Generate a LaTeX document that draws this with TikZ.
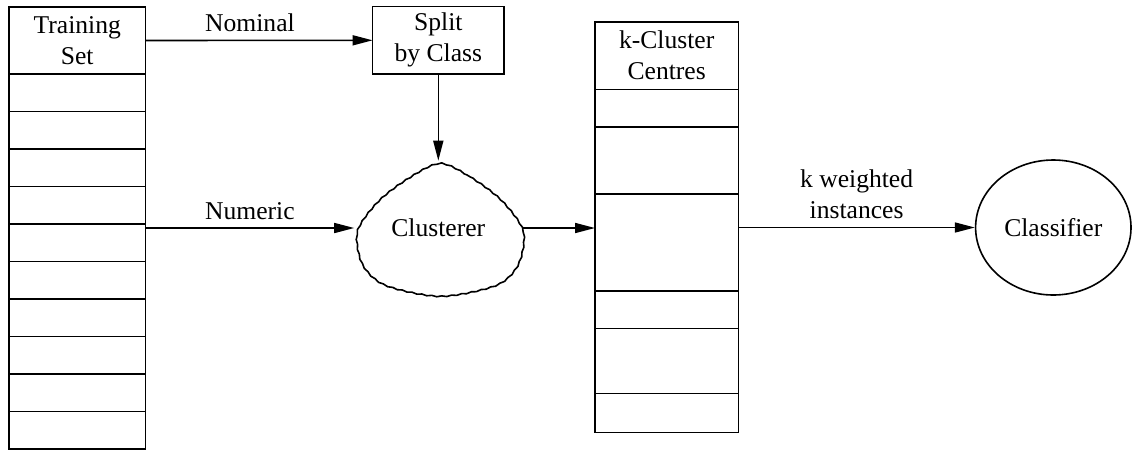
\documentclass[tikz,border=0pt]{standalone}
\usepackage{fontspec}
\setmainfont{Liberation Serif}
\usepackage{tikz}
\usetikzlibrary{positioning,arrows.meta,decorations.pathmorphing,shapes.geometric}

\begin{document}
\begin{tikzpicture}[x=0.5pt,y=-0.5pt,line width=0.8pt,
    every node/.style={align=center,font=\fontsize{12.8}{15.5}\selectfont},
    box/.style={draw,rectangle,outer sep=0pt,inner sep=2pt},
    rowbox/.style={draw,rectangle,outer sep=0pt,minimum width=#1},
    arr/.style={-{Triangle[length=10pt,width=5pt]}},
    lbl/.style={above=0.5pt}]
  \useasboundingbox (0,0) rectangle (1133,451);
  % training set column
  \node[box,minimum width=68.25pt,minimum height=33.5pt,alias=ts0] (ts) at (77.25,40.5) {Training\\Set};
  \foreach \i in {1,...,10}{
    \pgfmathtruncatemacro\j{\i-1}
    \node[rowbox=68.25pt,minimum height=18.75pt,below=0pt of ts\j] (ts\i) {};
  }
  \node[box,minimum width=65.7pt,minimum height=33.7pt] (split) at (438.3,40.3) {Split\\by Class};
  \node[shape=ellipse,minimum width=83.3pt,minimum height=66.5pt] (clus) at (438.3,228) {Clusterer};
  \begin{scope}[shift={(clus.center)}]
    \draw[decorate,decoration={snake,segment length=5pt,amplitude=0.25pt}]
      plot[smooth cycle] coordinates {(0,-66) (32,-51) (62,-28) (83,2) (78,35) (56,56) (0,67) (-55,56) (-78,35) (-83,2) (-62,-28) (-32,-51)};
  \end{scope}
  % k-cluster centres column
  \node[box,minimum width=71.7pt,minimum height=33.8pt,alias=kc0] (kc) at (666.7,55.5) {k-Cluster\\Centres};
  \foreach \h [count=\i] in {18.7,33.65,48.5,18.65,32.5,19.5}{
    \pgfmathtruncatemacro\j{\i-1}
    \node[rowbox=71.7pt,minimum height=\h pt,below=0pt of kc\j] (kc\i) {};
  }
  \node[draw,shape=ellipse,minimum width=77.7pt,minimum height=67.5pt,inner sep=1pt] (cls) at (1053.3,227.5) {Classifier};
  % connectors
  \draw[arr] (ts.east) -- node[lbl,pos=0.46] {Nominal} (split.west);
  \draw[arr] (clus.west -| ts5.east) -- node[lbl] {Numeric} (clus.west);
  \draw[arr] (split.south) -- (clus.north);
  \draw[arr] (clus.east) -- (clus.east -| kc3.west);
  \draw[arr] (cls.west -| kc3.east) -- node[lbl] {k weighted\\instances} (cls.west);
\end{tikzpicture}
\end{document}
